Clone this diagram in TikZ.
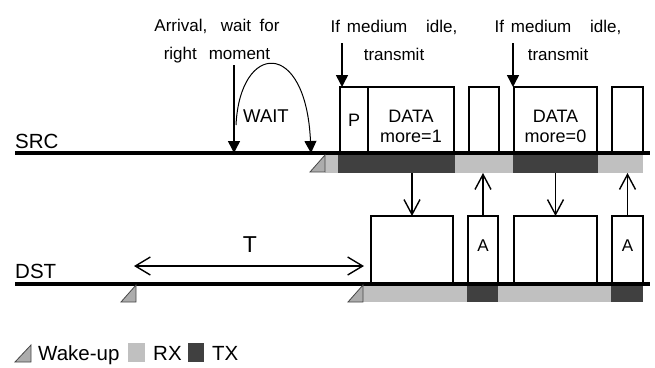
\documentclass[tikz,border=0pt]{standalone}
\usepackage{fontspec}
\setmainfont{Liberation Sans}
\usepackage{xcolor}
\usetikzlibrary{arrows.meta, positioning}
\definecolor{rxgray}{RGB}{192,192,192}
\definecolor{txgray}{RGB}{64,64,64}
\definecolor{wakegray}{RGB}{172,172,172}
\definecolor{inkgray}{RGB}{70,70,70}

\begin{document}
\begin{tikzpicture}[x=1pt, y=-1pt,
        pkt/.style={draw, line width=1.8pt, inner sep=0pt, outer sep=0pt, anchor=south west, minimum height=66pt, font=\fontsize{18}{20}\selectfont},
        dpkt/.style={pkt, minimum height=68pt, font=\fontsize{17}{20}\selectfont},
        bar/.style={inner sep=0pt, outer sep=0pt, anchor=north west, minimum height=20pt},
        rx/.style={bar, fill=rxgray},
        tx/.style={bar, fill=txgray},
        note/.style={align=center, anchor=north, inner sep=0pt, font=\fontsize{17}{28}\selectfont},
        tag/.style={anchor=base west, inner sep=0pt, font=\fontsize{20.5}{24}\selectfont},
        wake/.style={fill=wakegray, draw=inkgray, line width=0.8pt, line join=miter},
        line/.style={line width=4pt},
        solidarrow/.style={-{Triangle[length=12pt, width=12pt]}, line width=1.5pt},
        openarrow/.style={-{Straight Barb[length=15pt, width=16pt]}, line width=1.4pt},
        twoarrow/.style={{Straight Barb[length=15pt, width=18pt]}-{Straight Barb[length=15pt, width=18pt]}, line width=1.4pt}
    ]
    \useasboundingbox (0,0) rectangle (655,367);

    % activity bars (drawn first, the channel lines go over them)
    \node[rx, minimum width=13pt] (rxs0) at (325,153) {};
    \node[tx, minimum width=117pt, right=0pt of rxs0] (txs1) {};
    \node[rx, minimum width=58pt, right=0pt of txs1] (rxs1) {};
    \node[tx, minimum width=85pt, right=0pt of rxs1] (txs2) {};
    \node[rx, minimum width=45pt, right=0pt of txs2] (rxs2) {};

    \node[rx, minimum width=104pt, minimum height=18pt] (rxd1) at (363,284) {};
    \node[tx, minimum width=31pt, minimum height=18pt, right=0pt of rxd1] (txd1) {};
    \node[rx, minimum width=113pt, minimum height=18pt, right=0pt of txd1] (rxd2) {};
    \node[tx, minimum width=32pt, minimum height=18pt, right=0pt of rxd2] (txd2) {};

    % channel lines
    \coordinate (src0) at (15,153);
    \coordinate (src1) at (650,153);
    \coordinate (dst0) at (15,284);
    \coordinate (dst1) at (650,284);
    \draw[line] (src0) -- (src1);
    \draw[line] (dst0) -- (dst1);
    \node[tag] (srclbl) at (15,148) {SRC};
    \node[tag] (dstlbl) at (15,278) {DST};

    % wake-up marks
    \foreach \x/\y in {325/172, 136/302, 363/302}
        \draw[wake] (\x-15,\y) -- (\x,\y-17) -- (\x,\y) -- cycle;

    % source packets
    \node[pkt, minimum width=28pt] (psrc) at (340,153) {P};
    \node[pkt, minimum width=86pt, right=0pt of psrc, label={[yshift=-6pt, align=center, font=\fontsize{18}{20}\selectfont]center:DATA\\more=1}] (data1) {};
    \node[pkt, minimum width=30pt, right=15pt of data1] (gap1) {};
    \node[pkt, minimum width=83pt, label={[yshift=-6pt, align=center, font=\fontsize{18}{20}\selectfont]center:DATA\\more=0}] (data2) at (514,153) {};
    \node[pkt, minimum width=31pt, right=15pt of data2] (gap2) {};

    % destination packets
    \node[dpkt, minimum width=82pt] (rcv1) at (371,284) {};
    \node[dpkt, minimum width=30pt, label={[yshift=4pt, font=\fontsize{17}{20}\selectfont]center:A}] (ack1) at (468,284) {};
    \node[dpkt, minimum width=83pt] (rcv2) at (514,284) {};
    \node[dpkt, minimum width=31pt, label={[yshift=4pt, font=\fontsize{17}{20}\selectfont]center:A}] (ack2) at (612,284) {};

    % exchange between SRC and DST
    \draw[openarrow] (txs1.south -| rcv1.north) -- (rcv1.north);
    \draw[openarrow] (ack1.north) -- (ack1.north |- rxs1.south);
    \draw[openarrow] (txs2.south -| rcv2.north) -- (rcv2.north);
    \draw[openarrow] (ack2.north) -- (ack2.north |- rxs2.south);

    % notes on top
    \node[note] (arrival) at (217,19) {Arrival,\hspace{0.8em}wait\hspace{0.5em}for\\right\hspace{0.7em}moment};
    \node[note] (idle1) at (394,20) {If\hspace{0.4em}medium\hspace{1.1em}idle,\\transmit};
    \node[note] (idle2) at (558,20) {If\hspace{0.4em}medium\hspace{1.1em}idle,\\transmit};

    \coordinate (arrtop) at (234,65);
    \coordinate (arrend) at (234,153);
    \draw[solidarrow] (arrtop) -- (arrend);
    \coordinate (waitstart) at (236,125);
    \coordinate (waitend) at (311,153);
    \draw[solidarrow, line width=1pt] (waitstart) .. controls (240,42) and (306,38) .. (waitend);
    \node[anchor=base, inner sep=0pt, font=\fontsize{18.5}{20}\selectfont] (waitlbl) at (266,122) {WAIT};

    \coordinate (tx1top) at (342,43);
    \coordinate (tx2top) at (513,43);
    \draw[solidarrow] (tx1top) -- (tx1top |- psrc.north);
    \draw[solidarrow] (tx2top) -- (tx2top |- data2.north);

    % wake-up interval
    \coordinate (tleft) at (134,266);
    \coordinate (tright) at (364,266);
    \draw[twoarrow] (tleft) -- (tright);
    \node[anchor=base, inner sep=0pt, font=\fontsize{23}{24}\selectfont] (tlbl) at (250,252) {T};

    % legend
    \draw[wake] (15,362) -- (31,345) -- (31,362) -- cycle;
    \node[tag] (legwake) at (38,360) {Wake-up};
    \node[bar, fill=rxgray, minimum width=17pt, minimum height=19pt] (legrx) at (128,343) {};
    \node[tag] (legrxlbl) at (153,360) {RX};
    \node[bar, fill=txgray, minimum width=16pt, minimum height=19pt] (legtx) at (188,343) {};
    \node[tag] (legtxlbl) at (212,360) {TX};
\end{tikzpicture}
\end{document}
